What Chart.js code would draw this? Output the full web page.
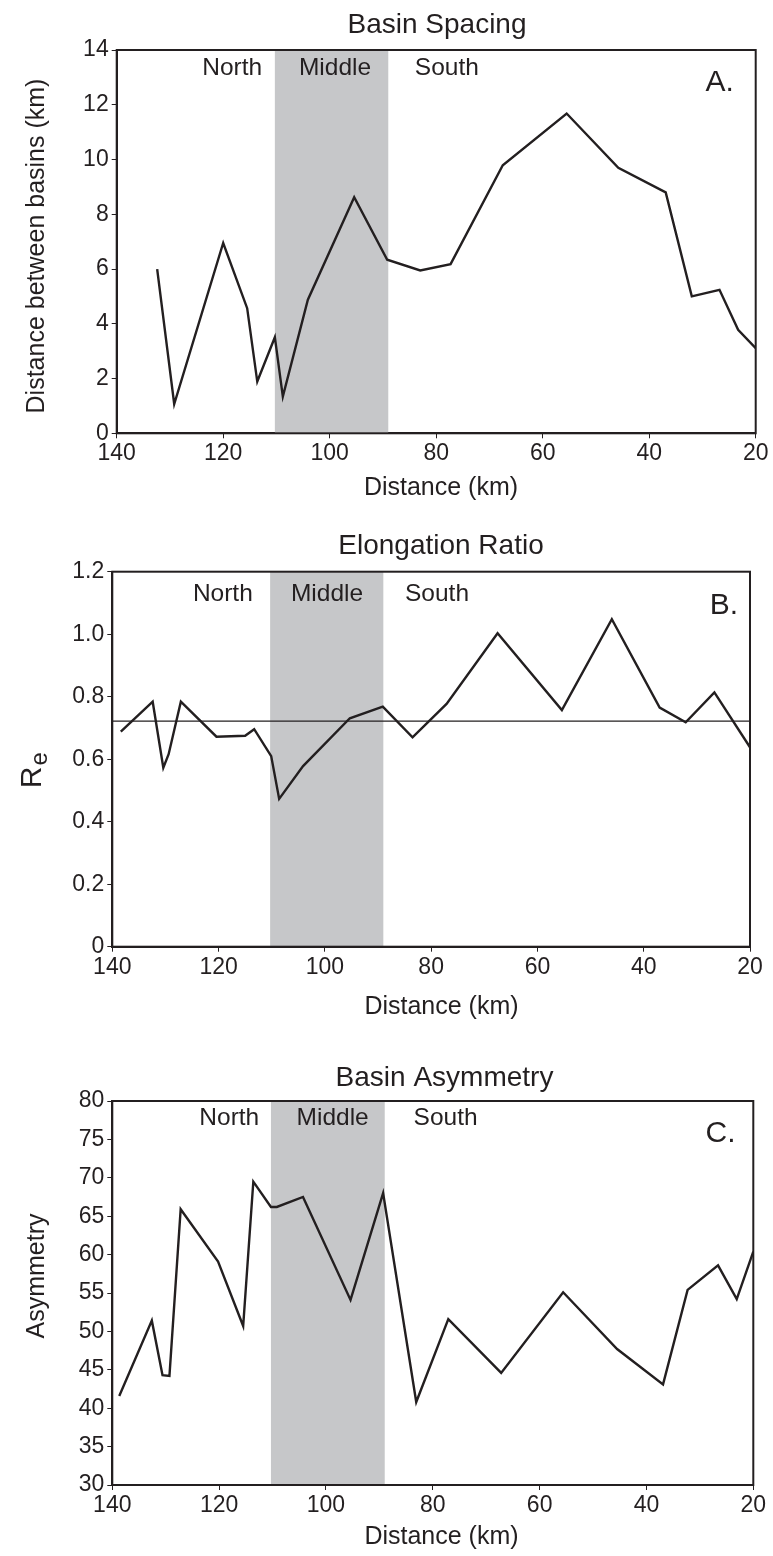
<!DOCTYPE html>
<html>
<head>
<meta charset="utf-8">
<script src="https://cdn.jsdelivr.net/npm/chart.js@4.4.1/dist/chart.umd.min.js"></script>
<style>
  html, body { margin: 0; padding: 0; background: #fff; }
  .panel { position: absolute; left: 0; }
</style>
</head>
<body>
<div class="panel" style="top:0"><canvas id="chartA" width="773" height="510"></canvas></div>
<div class="panel" style="top:510px"><canvas id="chartB" width="773" height="520"></canvas></div>
<div class="panel" style="top:1030px"><canvas id="chartC" width="773" height="526"></canvas></div>
<script>
// values, distance in km along the range
const distanceTicks = [140, 120, 100, 80, 60, 40, 20];
const zoneNames = ["North", "Middle", "South"];
const middleZone = [110.3, 89];

const spacingKm = [132.4, 129.2, 120, 115.5, 113.6, 110.3, 108.8, 104.1, 95.4, 89.2, 83.0, 77.3, 67.5, 55.5, 45.8, 36.9, 32.0, 26.8, 23.3, 20];
const spacingVal = [6.0, 1.07, 6.95, 4.57, 1.89, 3.51, 1.34, 4.88, 8.62, 6.34, 5.95, 6.18, 9.79, 11.68, 9.70, 8.80, 5.0, 5.24, 3.78, 3.11];
const spacingTicks = [0, 2, 4, 6, 8, 10, 12, 14];

const elongKm = [138.4, 132.4, 130.4, 129.4, 127.1, 120.4, 115.0, 113.3, 110.1, 108.6, 104.1, 95.3, 89.1, 83.5, 77.1, 67.5, 55.4, 46.0, 37.0, 32.1, 26.7, 20];
const elongVal = [0.688, 0.784, 0.573, 0.616, 0.784, 0.672, 0.675, 0.696, 0.610, 0.473, 0.578, 0.731, 0.768, 0.670, 0.777, 1.003, 0.757, 1.048, 0.765, 0.718, 0.814, 0.638];
const elongMean = 0.722;
const elongTicks = [0, 0.2, 0.4, 0.6, 0.8, 1.0, 1.2];

const asymKm = [138.7, 132.6, 130.6, 129.3, 127.2, 120.2, 115.5, 113.6, 110.3, 109.2, 104.3, 95.4, 89.3, 83.1, 77.1, 67.2, 55.6, 45.5, 36.9, 32.3, 26.6, 23.1, 20];
const asymVal = [41.6, 51.4, 44.3, 44.2, 65.9, 59.1, 50.7, 69.5, 66.2, 66.2, 67.5, 54.1, 68.0, 40.8, 51.6, 44.6, 55.1, 47.7, 43.1, 55.4, 58.6, 54.2, 60.4];
const asymTicks = [30, 35, 40, 45, 50, 55, 60, 65, 70, 75, 80];

const INK = "#231f20";
const BAND = "#c6c7c9";
const FONT = '"Liberation Sans", Arial, Helvetica, sans-serif';

Chart.defaults.font.family = FONT;
Chart.defaults.color = INK;

function text(ctx, str, x, y, size, align) {
  ctx.font = size + "px " + FONT;
  ctx.fillStyle = INK;
  ctx.textAlign = align || "center";
  ctx.textBaseline = "middle";
  ctx.fillText(str, x, y);
}

// shaded middle zone, zone names, frame, titles
const panelDecor = {
  id: "panelDecor",
  beforeDatasetsDraw(chart) {
    const { ctx, chartArea: a, scales: { x } } = chart;
    const d = chart.options.plugins.panelDecor;
    const x0 = x.getPixelForValue(middleZone[0]);
    const x1 = x.getPixelForValue(middleZone[1]);
    ctx.save();
    ctx.fillStyle = BAND;
    ctx.fillRect(x0, a.top, x1 - x0, a.bottom - a.top);
    zoneNames.forEach((n, i) => {
      text(ctx, n, x.getPixelForValue(d.zoneAt[i]), a.top + d.zoneDy, 24.5);
    });
    ctx.restore();
  },
  afterDraw(chart) {
    const { ctx, chartArea: a } = chart;
    const d = chart.options.plugins.panelDecor;
    ctx.save();
    ctx.strokeStyle = INK;
    ctx.lineWidth = 2;
    ctx.strokeRect(a.left, a.top, a.right - a.left, a.bottom - a.top);
    text(ctx, d.title, d.titleAt[0], d.titleAt[1], 28);
    text(ctx, "Distance (km)", d.xTitleAt[0], d.xTitleAt[1], 25);
    text(ctx, d.letter, d.letterAt[0], d.letterAt[1], 30);
    ctx.translate(d.yTitleAt[0], d.yTitleAt[1]);
    ctx.rotate(-Math.PI / 2);
    if (d.yTitle === "Re") {
      ctx.font = "30px " + FONT;
      const wr = ctx.measureText("R").width;
      ctx.font = "24px " + FONT;
      const we = ctx.measureText("e").width;
      const start = -(wr + we) / 2;
      ctx.textAlign = "left";
      ctx.textBaseline = "alphabetic";
      ctx.fillStyle = INK;
      ctx.font = "30px " + FONT;
      ctx.fillText("R", start, 11);
      ctx.font = "24px " + FONT;
      ctx.fillText("e", start + wr + 1, 17);
    } else {
      text(ctx, d.yTitle, 0, 0, 25);
    }
    ctx.restore();
  }
};

function buildPanel(id, p) {
  const datasets = [{
    data: p.km.map((k, i) => ({ x: k, y: p.values[i] })),
    borderColor: INK,
    borderWidth: 2.4,
    pointRadius: 0,
    tension: 0
  }];
  if (p.mean !== undefined) {
    datasets.push({
      data: [{ x: 140, y: p.mean }, { x: 20, y: p.mean }],
      borderColor: INK,
      borderWidth: 1.2,
      pointRadius: 0
    });
  }
  new Chart(document.getElementById(id), {
    type: "line",
    data: { datasets },
    options: {
      responsive: false,
      animation: false,
      layout: { padding: p.pad },
      plugins: {
        legend: { display: false },
        tooltip: { enabled: false },
        panelDecor: p.decor
      },
      scales: {
        x: {
          type: "linear",
          reverse: true,
          min: 20,
          max: 140,
          afterBuildTicks: (s) => { s.ticks = distanceTicks.map((v) => ({ value: v })); },
          afterFit: (s) => { s.height = p.xHeight; },
          grid: { drawOnChartArea: false, tickLength: 5, tickColor: INK, tickWidth: 1 },
          border: { color: INK, width: 2 },
          ticks: { color: INK, font: { size: 23 }, padding: 2, maxRotation: 0, autoSkip: false }
        },
        y: {
          type: "linear",
          min: p.yTicks[0],
          max: p.yTicks[p.yTicks.length - 1],
          afterBuildTicks: (s) => { s.ticks = p.yTicks.map((v) => ({ value: v })); },
          afterFit: (s) => { s.width = p.yWidth; },
          grid: { drawOnChartArea: false, tickLength: 5, tickColor: INK, tickWidth: 1 },
          border: { color: INK, width: 2 },
          ticks: { color: INK, font: { size: 23 }, padding: 3, autoSkip: false, callback: p.tickFmt }
        }
      }
    },
    plugins: [panelDecor]
  });
}

buildPanel("chartA", {
  km: spacingKm, values: spacingVal, yTicks: spacingTicks,
  tickFmt: (v) => String(v),
  pad: { left: 0, right: 17.3, top: 50, bottom: 0 }, yWidth: 116.7, xHeight: 76.7,
  decor: {
    title: "Basin Spacing", titleAt: [437, 25],
    xTitleAt: [441, 488], yTitle: "Distance between basins (km)", yTitleAt: [37, 246],
    letter: "A.", letterAt: [719.7, 82.8],
    zoneAt: [118.3, 99.0, 78.0], zoneDy: 18
  }
});

buildPanel("chartB", {
  km: elongKm, values: elongVal, mean: elongMean, yTicks: elongTicks,
  tickFmt: (v) => (v === 0 ? "0" : v.toFixed(1)),
  pad: { left: 0, right: 23, top: 61.7, bottom: 0 }, yWidth: 112.3, xHeight: 83.3,
  decor: {
    title: "Elongation Ratio", titleAt: [441, 36.7],
    xTitleAt: [441.5, 496.7], yTitle: "Re", yTitleAt: [30, 260.7],
    letter: "B.", letterAt: [724, 96],
    zoneAt: [119.2, 99.6, 78.9], zoneDy: 22.5
  }
});

buildPanel("chartC", {
  km: asymKm, values: asymVal, yTicks: asymTicks,
  tickFmt: (v) => String(v),
  pad: { left: 0, right: 19.7, top: 71, bottom: 0 }, yWidth: 112.3, xHeight: 71,
  decor: {
    title: "Basin Asymmetry", titleAt: [444.5, 48],
    xTitleAt: [441.5, 507], yTitle: "Asymmetry", yTitleAt: [37, 246],
    letter: "C.", letterAt: [720.5, 104],
    zoneAt: [118.1, 98.75, 77.6], zoneDy: 17
  }
});
</script>
</body>
</html>
